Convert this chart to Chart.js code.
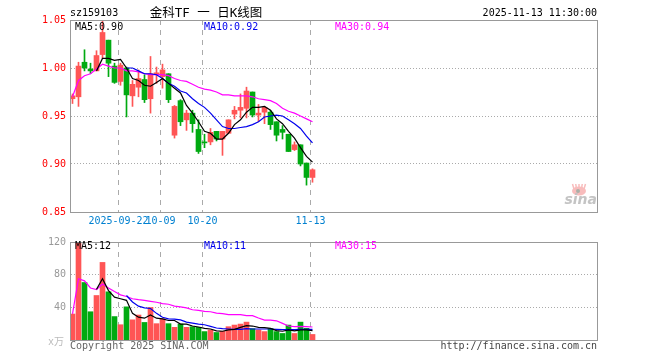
<!DOCTYPE html>
<html>
<head>
<meta charset="utf-8">
<title>sz159103</title>
<script src="https://cdn.jsdelivr.net/npm/chart.js@4/dist/chart.umd.min.js"></script>
<style>
  html, body { margin: 0; padding: 0; background: #fff; }
  canvas { position: absolute; left: 0; }
  #priceChart { top: 0; }
  #volChart { top: 232px; }
</style>
</head>
<body>
<canvas id="priceChart" width="660" height="232"></canvas>
<canvas id="volChart" width="660" height="128"></canvas>
<script>
// ------------------------- DATA -------------------------
const openPrices = [0.968,0.970,1.006,0.999,0.997,1.014,1.029,1.002,0.986,1.000,0.971,0.980,0.988,0.968,0.993,0.991,0.994,0.930,0.966,0.946,0.953,0.936,0.923,0.923,0.934,0.926,0.932,0.952,0.956,0.958,0.975,0.951,0.954,0.954,0.944,0.936,0.931,0.915,0.920,0.901,0.886];
const closePrices = [0.971,1.002,1.000,0.997,1.013,1.037,1.005,0.985,1.003,0.972,0.983,0.989,0.967,0.994,0.995,0.998,0.967,0.960,0.944,0.953,0.942,0.913,0.922,0.933,0.926,0.934,0.946,0.956,0.959,0.976,0.951,0.953,0.959,0.941,0.930,0.933,0.913,0.920,0.900,0.886,0.894];
const highPrices = [0.973,1.006,1.019,1.005,1.018,1.049,1.029,1.005,1.005,1.001,0.987,0.998,0.993,1.012,1.001,1.004,0.994,0.961,0.967,0.956,0.956,0.946,0.931,0.937,0.934,0.934,0.946,0.960,0.973,0.980,0.975,0.962,0.960,0.956,0.944,0.940,0.931,0.923,0.920,0.901,0.895];
const lowPrices = [0.963,0.960,0.997,0.994,0.997,1.010,0.991,0.984,0.982,0.949,0.960,0.970,0.964,0.953,0.984,0.979,0.964,0.927,0.940,0.935,0.933,0.911,0.917,0.920,0.924,0.909,0.932,0.947,0.948,0.948,0.949,0.944,0.942,0.936,0.924,0.926,0.913,0.914,0.898,0.878,0.881];

const priceMA5 = [null,null,null,null,0.997,1.010,1.010,1.008,1.009,1.000,0.989,0.987,0.982,0.981,0.985,0.989,0.984,0.979,0.974,0.961,0.953,0.944,0.934,0.932,0.926,0.926,0.932,0.941,0.946,0.954,0.959,0.959,0.960,0.956,0.947,0.942,0.934,0.927,0.917,0.908,0.902];
const priceMA10 = [null,null,null,null,null,null,null,null,null,1.000,1.000,0.997,0.994,0.994,0.993,0.989,0.984,0.981,0.976,0.974,0.968,0.963,0.959,0.953,0.946,0.939,0.937,0.937,0.938,0.939,0.941,0.944,0.949,0.950,0.951,0.950,0.946,0.942,0.937,0.929,0.922];
const priceMA30 = [0.970,0.987,0.992,0.994,0.999,1.004,1.002,1.000,1.000,0.997,0.997,0.996,0.994,0.993,0.993,0.993,0.992,0.989,0.987,0.986,0.983,0.980,0.978,0.977,0.975,0.972,0.972,0.971,0.971,0.971,0.970,0.968,0.967,0.966,0.963,0.958,0.955,0.953,0.950,0.947,0.944];

const volumes = [31.8,120,70.4,34.6,54.5,95,59,28.7,18.7,40.6,24.7,30.6,21.5,39.8,20,26,20,15.5,19.5,15.5,16.3,15.5,10.3,12.3,9.2,10.7,16.3,18.3,19.5,21.9,13.9,12.3,10.3,13.9,10.3,8,18.3,8,21.9,14.3,6.8];
const volMA5 = [null,null,null,null,62,75,60.5,52.5,50.5,48.6,32.6,27.9,26.7,30.6,26.7,25.9,23.9,23.9,19.5,19.5,17.1,15.9,14.3,13.5,11.1,10.7,12.3,13.1,15.5,17.5,17.1,15.5,15.1,14.3,11.5,10.7,12.3,11.1,12.3,12.3,11.5];
const volMA10 = [null,null,null,null,null,null,null,null,null,54.5,46.6,41.4,39.4,38.6,32.6,27.9,25.9,25.5,24.7,21.9,20.7,19.5,18.7,16.7,14.7,13.9,13.5,13.1,13.1,13.9,13.5,13.5,13.5,13.5,13.1,12.7,12.7,12.7,13.1,13.1,13.1];
const volMA30 = [32,75,72.4,63.7,61.7,68.5,63.7,59.3,55.3,53.3,50.5,49.4,48.6,47.4,46.2,44.6,43.8,41.4,40.6,39.4,37,36.2,35,34.6,33,32.2,31,31,31,29.9,29.9,27,24.3,24.3,23.5,20.3,17.1,16.3,16.7,16.3,15.9];

const dateIndex = [8, 15, 22, 40];
const dateLabels = ['2025-09-22', '10-09', '10-20', '11-13'];
const priceTicks = [0.85, 0.90, 0.95, 1.00, 1.05];
const volTicks = [40, 80, 120];

// ------------------------- STYLE -------------------------
const RED = '#ff5555';
const GREEN = '#00aa11';
const MONO = '"DejaVu Sans Mono", monospace';
const GRAY = '#999999';

Chart.defaults.font.family = MONO;
Chart.defaults.font.size = 10;

const candleColors = openPrices.map((o, i) => closePrices[i] >= o ? RED : GREEN);
const volColors = candleColors;

// ------------------------- HELPERS -------------------------
function points(values) {
  return values.map((y, x) => ({ x, y }));
}

function ranges(a, b) {
  return a.map((v, x) => ({ x, y: [v, b[x]] }));
}

function lineSet(values, color) {
  return {
    type: 'line',
    data: points(values),
    borderColor: color,
    borderWidth: 1.2,
    pointRadius: 0,
    tension: 0,
    order: 0
  };
}

// x scale is shared by both panels so candles and volume bars line up
function xScale(showLabels) {
  return {
    type: 'linear',
    offset: false,
    min: -2.5 / 6,
    max: 524.5 / 6,
    afterBuildTicks: s => { s.ticks = dateIndex.map(i => ({ value: i - 1 / 3 })); },
    afterFit: s => { s.height = 20; },
    grid: { color: '#aaaaaa', drawTicks: false, lineWidth: 1, offset: false },
    border: { color: GRAY, dash: [5, 5] },
    ticks: {
      display: showLabels,
      autoSkip: false,
      maxRotation: 0,
      padding: 3,
      color: '#0080d0',
      callback: (v, i) => dateLabels[i]
    }
  };
}

function yScale(min, max, tickValues, color, format) {
  return {
    min,
    max,
    afterBuildTicks: s => { s.ticks = tickValues.map(value => ({ value })); },
    afterFit: s => { s.width = 70; },
    grid: { color: '#aaaaaa', drawTicks: false, lineWidth: 1 },
    border: { color: GRAY, dash: [1, 2] },
    ticks: { color, padding: 4, autoSkip: false, callback: format }
  };
}

// frame around the plot + all the loose text on the picture
function overlay(texts, extra) {
  return {
    id: 'overlay',
    beforeDatasetsDraw(chart) {
      if (extra) extra(chart.ctx, chart.chartArea);
    },
    afterDraw(chart) {
      const { ctx, chartArea: a } = chart;
      ctx.save();
      ctx.strokeStyle = GRAY;
      ctx.lineWidth = 1;
      ctx.strokeRect(a.left + 0.5, a.top + 0.5, a.right - a.left, a.bottom - a.top);
      ctx.textBaseline = 'middle';
      texts.forEach(t => {
        ctx.font = t.font || '10px ' + MONO;
        ctx.fillStyle = t.color || '#000';
        ctx.textAlign = t.align || 'left';
        ctx.fillText(t.text, t.x, t.y);
      });
      ctx.restore();
    }
  };
}

// faded sina watermark in the lower right corner
function drawWatermark(ctx) {
  ctx.save();
  ctx.strokeStyle = '#f8bcbc';
  ctx.lineWidth = 1.5;
  [-5, -2.5, 0, 2.5, 5].forEach(dx => {
    ctx.beginPath();
    ctx.moveTo(579 + dx, 189);
    ctx.lineTo(579 + dx * 1.3, 184);
    ctx.stroke();
  });
  ctx.fillStyle = '#f8bcbc';
  ctx.beginPath();
  ctx.ellipse(579, 191, 7, 4.5, 0, 0, Math.PI * 2);
  ctx.fill();
  ctx.fillStyle = '#aab0a8';
  ctx.beginPath();
  ctx.arc(578, 191, 2, 0, Math.PI * 2);
  ctx.fill();
  ctx.font = 'italic bold 14px "DejaVu Sans", sans-serif';
  ctx.fillStyle = '#c4c4c4';
  ctx.textAlign = 'right';
  ctx.textBaseline = 'middle';
  ctx.fillText('sina', 597, 200);
  ctx.restore();
}

// ------------------------- PRICE PANEL -------------------------
new Chart(document.getElementById('priceChart'), {
  type: 'bar',
  data: {
    datasets: [
      lineSet(priceMA5, '#000000'),
      lineSet(priceMA10, '#0000ee'),
      lineSet(priceMA30, '#ff00ff'),
      { data: ranges(openPrices, closePrices), backgroundColor: candleColors, barThickness: 5, grouped: false, order: 1 },
      { data: ranges(lowPrices, highPrices), backgroundColor: candleColors, barThickness: 1, grouped: false, order: 2 }
    ]
  },
  options: {
    responsive: false,
    animation: false,
    events: [],
    layout: { padding: { top: 20, left: 0, right: 63, bottom: 0 } },
    plugins: { legend: { display: false }, tooltip: { enabled: false } },
    scales: {
      x: xScale(true),
      y: yScale(0.85, 1.05, priceTicks, '#ff0000', v => v.toFixed(2))
    }
  },
  plugins: [overlay([
    { text: 'sz159103', x: 70, y: 13 },
    { text: '金科TF 一 日K线图', x: 206, y: 13.5, align: 'center', font: '12.5px ' + MONO + ', "Noto Sans CJK SC"' },
    { text: '2025-11-13 11:30:00', x: 597, y: 13, align: 'right' },
    { text: 'MA5:0.90', x: 75, y: 27 },
    { text: 'MA10:0.92', x: 204, y: 27, color: '#0000ee' },
    { text: 'MA30:0.94', x: 335, y: 27, color: '#ff00ff' }
  ], drawWatermark)]
});

// ------------------------- VOLUME PANEL -------------------------
new Chart(document.getElementById('volChart'), {
  type: 'bar',
  data: {
    datasets: [
      lineSet(volMA5, '#000000'),
      lineSet(volMA10, '#0000ee'),
      lineSet(volMA30, '#ff00ff'),
      { data: points(volumes), backgroundColor: volColors, barThickness: 5, grouped: false, order: 1 }
    ]
  },
  options: {
    responsive: false,
    animation: false,
    events: [],
    layout: { padding: { top: 8, left: 0, right: 63, bottom: 0 } },
    plugins: { legend: { display: false }, tooltip: { enabled: false } },
    scales: {
      x: xScale(false),
      y: yScale(0, 120, volTicks, GRAY, v => String(v))
    }
  },
  plugins: [overlay([
    { text: 'MA5:12', x: 75, y: 14 },
    { text: 'MA10:11', x: 204, y: 14, color: '#0000ee' },
    { text: 'MA30:15', x: 335, y: 14, color: '#ff00ff' },
    { text: 'x万', x: 64, y: 110, align: 'right', color: '#bbbbbb', font: '10px ' + MONO + ', "Noto Sans CJK SC"' },
    { text: 'Copyright 2025 SINA.COM', x: 70, y: 114, color: '#666666' },
    { text: 'http://finance.sina.com.cn', x: 597, y: 114, align: 'right', color: '#444444' }
  ])]
});
</script>
</body>
</html>
